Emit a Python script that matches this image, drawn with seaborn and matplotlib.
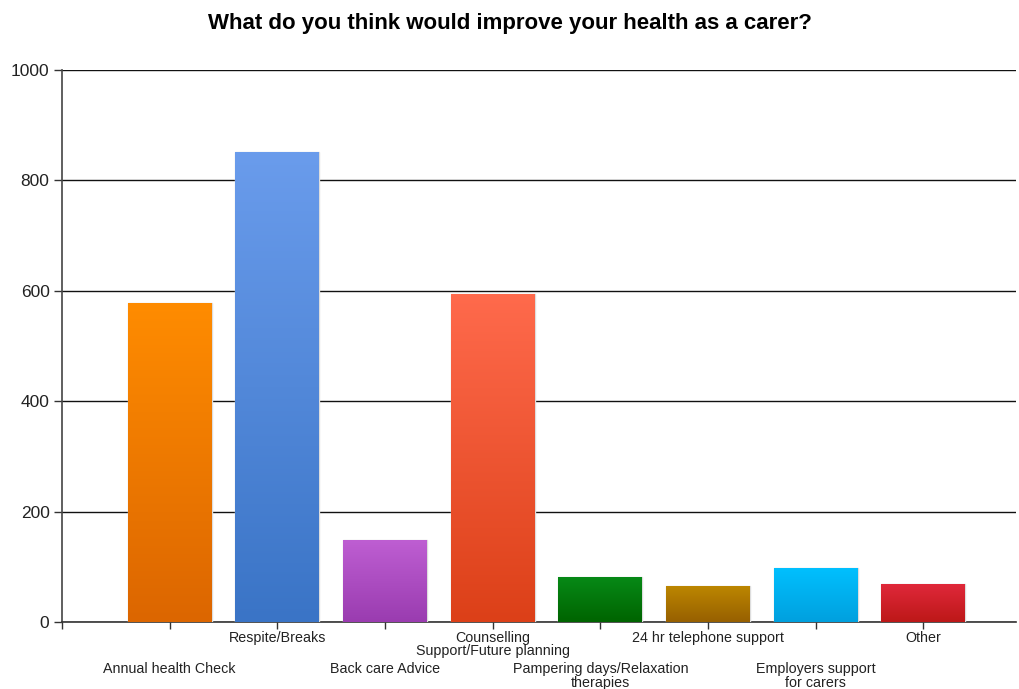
import numpy as np
import pandas as pd
import matplotlib
matplotlib.use("Agg")
import matplotlib.pyplot as plt
import matplotlib.colors as mcolors
import seaborn as sns

categories = ["Annual health Check", "Respite/Breaks", "Back care Advice",
              "Counselling\nSupport/Future planning", "Pampering days/Relaxation\ntherapies",
              "24 hr telephone support", "Employers support\nfor carers", "Other"]
values = [578, 851, 148, 594, 82, 65, 98, 68]
top_colors = ["#FF8C00", "#6A9CEC", "#BE5ED2", "#FF6A4C", "#078A17", "#BC8600", "#00C0FF", "#E0283A"]
bottom_colors = ["#DC6600", "#3A74C6", "#9A3CB0", "#DC4018", "#006400", "#976000", "#00A0DE", "#BC1818"]
yticks = [0, 200, 400, 600, 800, 1000]

sns.set_style("white")
plt.rcParams['font.family'] = ['Liberation Sans', 'DejaVu Sans']

df = pd.DataFrame({"cat": categories, "val": values})
fig = plt.figure(figsize=(10.19, 6.89), dpi=100)
ax = fig.add_axes([62/1019, 67/689, (1016-62)/1019, (622-70)/689])

sns.barplot(data=df, x="cat", y="val", ax=ax, width=0.78, color="#cccccc",
            edgecolor="#dddddd", linewidth=1.0, zorder=3)

# gradient fill clipped to each bar
for patch, tc, bc in zip(ax.patches, top_colors, bottom_colors):
    x0, y0 = patch.get_x(), patch.get_y()
    w, h = patch.get_width(), patch.get_height()
    cmap = mcolors.LinearSegmentedColormap.from_list("g", [bc, tc])
    grad = np.linspace(0, 1, 256).reshape(-1, 1)
    im = ax.imshow(grad, extent=[x0, x0 + w, y0, y0 + h], origin="lower",
                   cmap=cmap, aspect="auto", zorder=3.5)
    im.set_clip_path(patch)

ax.set_xlim(-1, 7.86)
ax.set_ylim(0, 1000)
ax.set_yticks(yticks)
ax.set_yticklabels([str(v) for v in yticks], fontsize=12.5, color="#222222")
ax.yaxis.grid(True, color="#111111", linewidth=1.0, zorder=0)
ax.set_axisbelow(True)

ax.set_xticks(range(-1, 8))
ax.set_xticklabels([""] * 9)
ax.tick_params(axis="x", length=5, width=1, color="#333333", direction="out", bottom=True)
ax.tick_params(axis="y", length=6, width=1, color="#333333", direction="out", left=True, pad=3)

for i, lab in enumerate(categories):
    yoff = -0.016 if i % 2 == 1 else -0.073
    ax.text(i, yoff, lab, transform=ax.get_xaxis_transform(), ha="center", va="top",
            fontsize=10.3, color="#222222", linespacing=0.95)

for s in ["top", "right"]:
    ax.spines[s].set_visible(False)
ax.spines["left"].set_color("#444444")
ax.spines["left"].set_linewidth(1.2)
ax.spines["bottom"].set_color("#333333")
ax.spines["bottom"].set_linewidth(1.2)
ax.set_xlabel("")
ax.set_ylabel("")

fig.text(0.5, 1 - 24/689, "What do you think would improve your health as a carer?",
         ha="center", va="center", fontsize=16, fontweight="bold", color="#000000")

fig.savefig("out.png", dpi=100)
